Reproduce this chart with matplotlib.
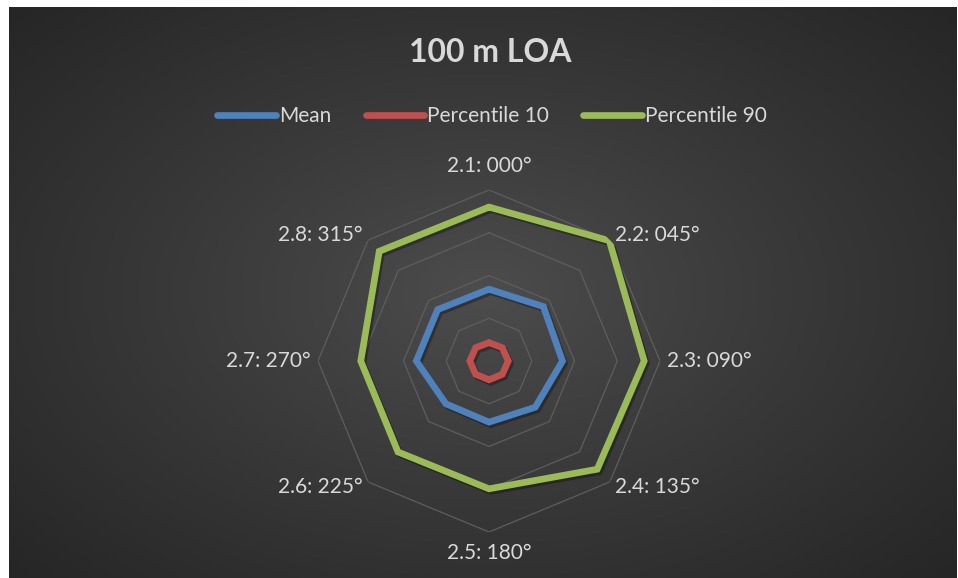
import numpy as np
import matplotlib
matplotlib.use("Agg")
import matplotlib.pyplot as plt
import matplotlib.patheffects as pe

plt.rcParams['font.family'] = ['Lato', 'DejaVu Sans']

title = "100 m LOA"
directions = ["2.1: 000°", "2.2: 045°", "2.3: 090°", "2.4: 135°",
              "2.5: 180°", "2.6: 225°", "2.7: 270°", "2.8: 315°"]
angles_deg = [0, 45, 90, 135, 180, 225, 270, 315]
mean_vals = [1.68, 1.80, 1.72, 1.53, 1.43, 1.42, 1.70, 1.70]
p10_vals = [0.43, 0.44, 0.45, 0.44, 0.44, 0.44, 0.45, 0.44]
p90_vals = [3.60, 3.98, 3.63, 3.58, 2.99, 3.01, 3.00, 3.63]
series_names = ["Mean", "Percentile 10", "Percentile 90"]
series_colors = ["#4f81bd", "#c0504d", "#9bbb59"]
ring_levels = [1, 2, 3, 4]

W, H = 958, 578
fig = plt.figure(figsize=(W / 100, H / 100), dpi=100, facecolor="white")

# background radial gradient
bg = fig.add_axes([9 / W, 0, (957 - 9) / W, (578 - 7) / H])
bg.set_axis_off()
nx, ny = 480, 290
xx, yy = np.meshgrid(np.linspace(-1, 1, nx), np.linspace(-1, 1, ny))
d = np.sqrt(xx ** 2 + (yy * 0.95) ** 2) / np.sqrt(2)
d = np.clip(d, 0, 1)
c0, c1 = 0x4d, 0x25
val = (c0 + (c1 - c0) * d ** 0.9) / 255.0
img = np.dstack([val, val, val])
bg.imshow(img, aspect="auto", extent=[0, 1, 0, 1], interpolation="bilinear")
bg.set_xlim(0, 1)
bg.set_ylim(0, 1)

# polar axes
cx, cy, R = 489, 361, 171
ax = fig.add_axes([(cx - R) / W, (H - cy - R) / H, 2 * R / W, 2 * R / H],
                  projection="polar")
ax.patch.set_alpha(0)
ax.set_theta_zero_location("N")
ax.set_theta_direction(-1)
ax.set_ylim(0, 4)
ax.grid(False)
ax.spines["polar"].set_visible(False)
ax.set_xticks([])
ax.set_yticks([])

theta = np.deg2rad(angles_deg)
theta_c = np.append(theta, theta[0])

for lvl in ring_levels:
    ax.plot(theta_c, [lvl] * len(theta_c), color="#5e5e5e", lw=0.9, zorder=1)

shadow = [pe.SimpleLineShadow(offset=(1.5, -1.8), shadow_color="black", alpha=0.3),
          pe.Normal()]
handles = []
for name, vals, col in zip(series_names, [mean_vals, p10_vals, p90_vals], series_colors):
    v = np.append(vals, vals[0])
    ln, = ax.plot(theta_c, v, color=col, lw=4.8, solid_joinstyle="miter",
                  solid_capstyle="round", zorder=3, path_effects=shadow, label=name)
    handles.append(ln)

# category labels
lab_color = "#d9d9d9"
for lab, a in zip(directions, angles_deg):
    t = np.deg2rad(a)
    if a == 0:
        ax.text(t, 4.55, lab, ha="center", va="center", color=lab_color, fontsize=15)
    elif a == 180:
        ax.text(t, 4.5, lab, ha="center", va="center", color=lab_color, fontsize=15)
    elif a in (45, 90, 135):
        ax.text(t, 4.17, lab, ha="left", va="center", color=lab_color, fontsize=15)
    else:
        ax.text(t, 4.17, lab, ha="right", va="center", color=lab_color, fontsize=15)

fig.text(490 / W, 1 - 52 / H, title, ha="center", va="center",
         color="#d9d9d9", fontsize=23, fontweight="bold")

leg = fig.legend(handles=handles, loc="center", bbox_to_anchor=(492 / W, 1 - 116 / H),
                 ncol=3, frameon=False, fontsize=15, handlelength=2.8,
                 handletextpad=0.15, columnspacing=1.65, labelcolor=lab_color)
for lh in leg.get_lines():
    lh.set_path_effects([])
    lh.set_linewidth(4.8)

fig.savefig("out.png", dpi=100, facecolor="white")
